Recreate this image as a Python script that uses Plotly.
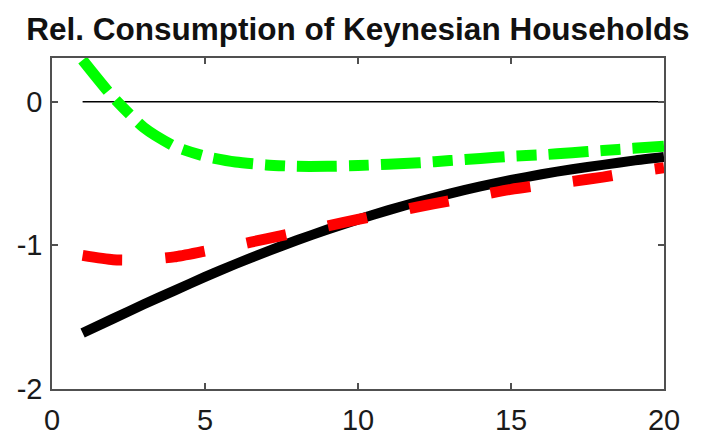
import plotly.graph_objects as go

# Quarters after the shock
quarters = list(range(1, 21))

# Relative consumption responses of Keynesian households
baseline = [-1.61, -1.51, -1.41, -1.315, -1.22, -1.13, -1.045, -0.965, -0.89, -0.82,
            -0.755, -0.695, -0.64, -0.59, -0.545, -0.505, -0.47, -0.44, -0.41, -0.385]
alt_red = [-1.07, -1.10, -1.10, -1.08, -1.04, -1.00, -0.955, -0.91, -0.865, -0.82,
           -0.775, -0.73, -0.69, -0.65, -0.61, -0.58, -0.555, -0.525, -0.49, -0.46]
alt_green = [0.29, 0.03, -0.18, -0.31, -0.38, -0.42, -0.44, -0.45, -0.45, -0.445,
             -0.435, -0.425, -0.41, -0.395, -0.38, -0.37, -0.355, -0.34, -0.325, -0.31]
zero_line = [0.0] * len(quarters)

x_ticks = [0, 5, 10, 15, 20]
y_ticks = [-2, -1, 0]
y_tick_text = ["-2", "-1", "0"]

font_family = "Liberation Sans, Arial, sans-serif"

fig = go.Figure()
fig.add_trace(go.Scatter(x=quarters, y=zero_line, mode="lines",
                         line=dict(color="black", width=1.5), hoverinfo="skip"))
fig.add_trace(go.Scatter(x=quarters, y=baseline, mode="lines",
                         line=dict(color="black", width=10, shape="spline", smoothing=0.6)))
fig.add_trace(go.Scatter(x=quarters, y=alt_red, mode="lines",
                         line=dict(color="#ff0000", width=11, dash="40px,43px",
                                   shape="spline", smoothing=0.6)))
fig.add_trace(go.Scatter(x=quarters, y=alt_green, mode="lines",
                         line=dict(color="#00ff00", width=11, dash="40px,12px,20px,12px",
                                   shape="spline", smoothing=0.6)))

axis_common = dict(showline=True, mirror="ticks", linecolor="#505050", linewidth=1.5,
                   ticks="inside", ticklen=6, tickwidth=1.5, tickcolor="#505050",
                   showgrid=False, zeroline=False, automargin=False,
                   tickfont=dict(family=font_family, size=29, color="#1a1a1a"))

fig.update_layout(
    width=704, height=439,
    margin=dict(l=52, r=40, t=58, b=50),
    paper_bgcolor="white", plot_bgcolor="white",
    showlegend=False,
    title=dict(text="<b>Rel. Consumption of Keynesian Households</b>",
               x=0.5, xref="paper", xanchor="center",
               y=0.934, yref="container", yanchor="middle",
               font=dict(family=font_family, size=31.5, color="#111111")),
    xaxis=dict(range=[0, 20], tickvals=x_ticks, ticklabelstandoff=4, **axis_common),
    yaxis=dict(range=[-2, 0.304], tickvals=y_ticks, ticktext=y_tick_text,
               ticklabelstandoff=2, **axis_common),
)

fig.write_html("out.html")
